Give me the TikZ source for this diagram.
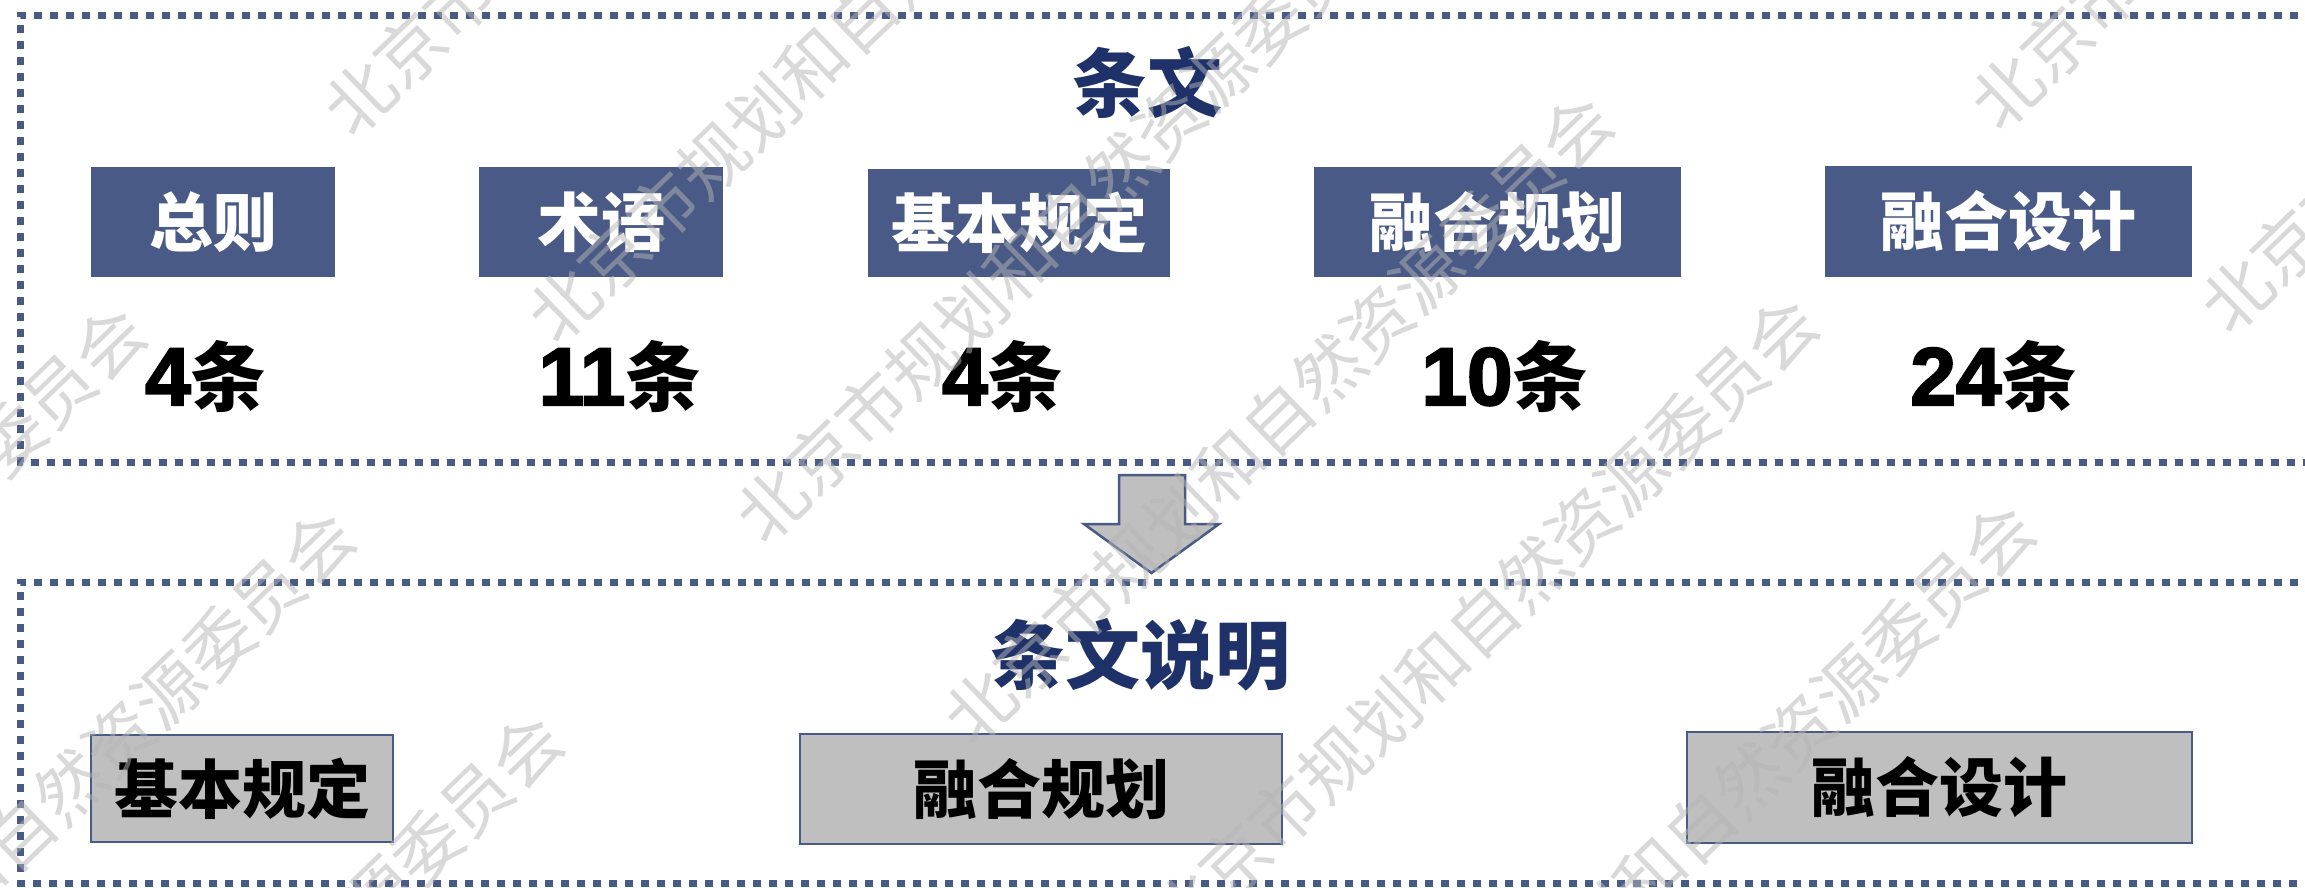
\documentclass[tikz,border=0pt]{standalone}
\usepackage{fontspec}
\setmainfont{Liberation Sans}
\newfontfamily\cjk{Noto Sans CJK SC}
\newfontfamily\digfont{Liberation Sans Bold}[FakeBold=2.5]
\definecolor{navy}{HTML}{4A5A87}
\definecolor{titleblue}{HTML}{1F3169}
\definecolor{grayfill}{HTML}{BFBFBF}
\definecolor{wmc}{HTML}{B4B4B4}
\newcommand{\cnt}[1]{{\digfont\fontsize{82}{90}\selectfont #1}{\cjk\bfseries\fontsize{76}{84}\selectfont 条}}
\tikzset{
  frame/.style={draw=navy, line width=7pt, dash pattern=on 8pt off 8pt},
  darkbox/.style={fill=navy, text=white, inner sep=0pt, font=\cjk\bfseries\fontsize{64}{70}\selectfont},
  graybox/.style={fill=grayfill, draw=navy, line width=2.5pt, text=black, inner sep=0pt, font=\cjk\bfseries\fontsize{64}{70}\selectfont},
  titletext/.style={text=titleblue, inner sep=0pt, font=\cjk\bfseries\fontsize{75}{82}\selectfont},
  counttext/.style={text=black, inner sep=0pt},
  wmark/.style={text=wmc, text opacity=0.5, inner sep=0pt, rotate=44, font=\cjk\fontsize{69}{75}\selectfont},
  blockarrow/.style={fill=grayfill, draw=navy, line width=2.5pt, line join=miter}
}
\newcommand{\wm}[2]{\node[wmark] at (#1+300,#2-291) {北京市规划和自然资源委员会};}
\begin{document}
\begin{tikzpicture}[x=1pt,y=-1pt]
\useasboundingbox (0,0) rectangle (2305,887);
\fill[white] (0,0) rectangle (2305,887);

% frames
\draw[frame] (2330,15) -- (20,15) -- (20,462) -- (2330,462);
\draw[frame] (2330,582) -- (20,582) -- (20,883) -- (2330,883);

% top section
\node[titletext] (t1) at (1147,82) {条文};
\node[darkbox, minimum width=244pt, minimum height=110pt] (b1) at (213,222) {总则};
\node[darkbox, minimum width=244pt, minimum height=110pt] (b2) at (601,222) {术语};
\node[darkbox, minimum width=302pt, minimum height=108pt] (b3) at (1019,223) {基本规定};
\node[darkbox, minimum width=367pt, minimum height=110pt] (b4) at (1497.5,222) {融合规划};
\node[darkbox, minimum width=367pt, minimum height=111pt] (b5) at (2008.5,221.5) {融合设计};

\node[counttext] (c1) at (206,376) {\cnt{4}};
\node[counttext] (c2) at (620,376) {\cnt{11}};
\node[counttext] (c3) at (1003,376) {\cnt{4}};
\node[counttext] (c4) at (1505,376) {\cnt{10}};
\node[counttext] (c5) at (1994,376) {\cnt{24}};

% arrow
\draw[blockarrow] (1119,475) -- (1185,475) -- (1185,524) -- (1219,524) -- (1151.5,573) -- (1084,524) -- (1119,524) -- cycle;

% bottom section
\node[titletext] (t2) at (1140,655) {条文说明};
\node[graybox, minimum width=302pt, minimum height=107pt] (g1) at (242,788.5) {基本规定};
\node[graybox, minimum width=482pt, minimum height=110pt] (g2) at (1041,789) {融合规划};
\node[graybox, minimum width=505pt, minimum height=111pt] (g3) at (1939.5,787.5) {融合设计};

% watermarks
\wm{-489}{921}
\wm{-280}{1125}
\wm{-72}{1329}
\wm{358}{101}
\wm{562}{308}
\wm{770}{508}
\wm{978}{710}
\wm{1183}{912}
\wm{1400}{1118}
\wm{2005}{95}
\wm{2235}{298}
\end{tikzpicture}
\end{document}
